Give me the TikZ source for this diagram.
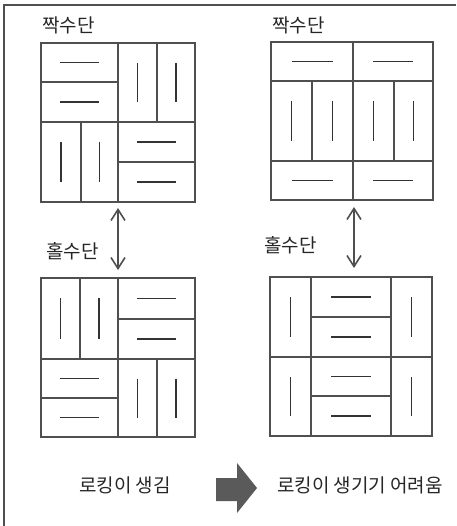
\documentclass[tikz,border=0pt]{standalone}
\usepackage{fontspec}
\newfontfamily\krfont{Noto Sans CJK KR}
\usetikzlibrary{arrows.meta}
\definecolor{ln}{HTML}{4F4F4F}
\definecolor{mk}{HTML}{333333}
\definecolor{fatc}{HTML}{5A5A5A}
\tikzset{
  brick/.style={draw=ln, line width=2pt},
  midline/.style={draw=mk, line width=1.5pt},
  square/.style={draw=ln, line width=2.6pt, inner sep=0pt, outer sep=0pt},
  lbl/.style={inner sep=0pt, font=\krfont\fontsize{19pt}{22pt}\selectfont, text=black!85},
  dblarrow/.style={draw=ln, line width=1.6pt, {Straight Barb[length=11pt,width=14pt]}-{Straight Barb[length=11pt,width=14pt]}},
  frame/.style={draw=ln, line width=2pt},
  fatarrow/.style={fill=fatc, draw=none}
}
\newcommand\brickh[4]{\draw[brick] (#1,#2) rectangle (#3,#4);
  \draw[midline] ({0.75*#1+0.25*#3},{(#2+#4)/2}) -- ({0.25*#1+0.75*#3},{(#2+#4)/2});}
\newcommand\brickv[4]{\draw[brick] (#1,#2) rectangle (#3,#4);
  \draw[midline] ({(#1+#3)/2},{0.75*#2+0.25*#4}) -- ({(#1+#3)/2},{0.25*#2+0.75*#4});}
\begin{document}
\begin{tikzpicture}[x=1pt,y=-1pt]
\useasboundingbox (0,0) rectangle (456,526);
\fill[white] (0,0) rectangle (456,526);
% frame
\coordinate (f1) at (456,5);
\coordinate (f2) at (4,5);
\coordinate (f3) at (4,526);
\draw[frame] (f1) -- (f2) -- (f3);

% square A (top-left)
\brickh{41}{43}{118}{82}
\brickh{41}{82}{118}{122}
\brickv{118}{43}{157}{122}
\brickv{157}{43}{195}{122}
\brickv{41}{122}{81}{202}
\brickv{81}{122}{118}{202}
\brickh{118}{122}{195}{162}
\brickh{118}{162}{195}{202}
\node[square, minimum width=154pt, minimum height=159pt] (A) at (118,122.5) {};

% square B (top-right)
\brickh{271}{42}{353}{81}
\brickh{353}{42}{433}{81}
\brickv{271}{81}{312}{161}
\brickv{312}{81}{353}{161}
\brickv{353}{81}{394}{161}
\brickv{394}{81}{433}{161}
\brickh{271}{161}{353}{200}
\brickh{353}{161}{433}{200}
\node[square, minimum width=162pt, minimum height=158pt] (B) at (352,121) {};

% square C (bottom-left)
\brickv{41}{278}{80}{359}
\brickv{80}{278}{118}{359}
\brickh{118}{278}{195}{319}
\brickh{118}{319}{195}{359}
\brickh{41}{359}{118}{398}
\brickh{41}{398}{118}{437}
\brickv{118}{359}{157}{437}
\brickv{157}{359}{195}{437}
\node[square, minimum width=154pt, minimum height=159pt] (C) at (118,357.5) {};

% square D (bottom-right)
\brickv{270}{277}{311}{357}
\brickv{270}{357}{311}{436}
\brickh{311}{277}{391}{317}
\brickh{311}{317}{391}{357}
\brickh{311}{357}{391}{396}
\brickh{311}{396}{391}{436}
\brickv{391}{277}{432}{357}
\brickv{391}{357}{432}{436}
\node[square, minimum width=162pt, minimum height=159pt] (D) at (351,356.5) {};

% labels
\node[lbl, anchor=west] (e1) at (42,25) {짝수단};
\node[lbl, anchor=west] (e2) at (272,25) {짝수단};
\node[lbl, anchor=west] (o1) at (46,251) {홀수단};
\node[lbl, anchor=west] (o2) at (264,245) {홀수단};
\node[lbl] (r1) at (125,485) {로킹이 생김};
\node[lbl] (r2) at (360,485) {로킹이 생기기 어려움};

% double arrows
\draw[dblarrow, shorten <=6pt, shorten >=8pt] (A.south) -- (C.north);
\draw[dblarrow, shorten <=7pt, shorten >=9pt] ([xshift=2pt]B.south) -- ([xshift=3pt]D.north);

% fat arrow
\fill[fatarrow] (216,478) -- (237,478) -- (237,463) -- (257,488) -- (237,513) -- (237,501) -- (216,501) -- cycle;
\end{tikzpicture}
\end{document}
